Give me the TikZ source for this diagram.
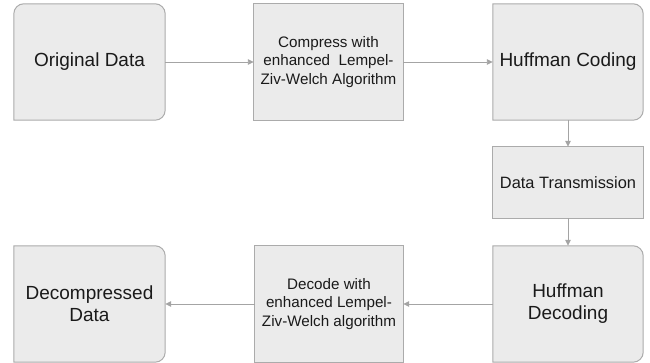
\documentclass[tikz,border=0pt]{standalone}
\usepackage{fontspec}
\setmainfont{Liberation Sans}
\usetikzlibrary{arrows.meta,backgrounds}
\definecolor{boxfill}{HTML}{EBEBEB}
\definecolor{boxline}{HTML}{ABABAB}
\definecolor{arrowgray}{HTML}{A4A4A4}
\definecolor{txt}{HTML}{1A1A1A}
\tikzset{
  blk/.style={rectangle, inner sep=0pt, text=txt, align=center},
  bigtext/.style={font=\fontsize{19}{22}\selectfont},
  smalltext/.style={font=\fontsize{15.2}{18.6}\selectfont},
  outline/.style={fill=boxfill, draw=boxline, line width=1pt},
  flow/.style={draw=arrowgray, line width=0.9pt,
    -{Triangle[length=6pt,width=5.5pt]}},
}
\begin{document}
\begin{tikzpicture}[x=1pt,y=1pt]
\useasboundingbox (0,0) rectangle (650,363);

% process blocks
\node[blk,bigtext,minimum width=151pt,minimum height=116pt] (orig) at (89.5,301) {Original Data};
\node[blk,smalltext,minimum width=149pt,minimum height=116pt] (comp) at (328.5,301)
  {Compress with\\enhanced\ \ Lempel-\\Ziv-Welch Algorithm};
\node[blk,bigtext,minimum width=150pt,minimum height=116pt] (hcod) at (568,301) {Huffman Coding};
\node[blk,font=\fontsize{16.4}{19}\selectfont,minimum width=150pt,minimum height=71pt] (trans) at (568,180.5) {Data Transmission};
\node[blk,bigtext,minimum width=150pt,minimum height=116pt] (hdec) at (568,59) {Huffman\\Decoding};
\node[blk,smalltext,minimum width=148pt,minimum height=116pt] (dec) at (329,59)
  {Decode with\\enhanced Lempel-\\Ziv-Welch algorithm};
\node[blk,bigtext,minimum width=151pt,minimum height=116pt] (decomp) at (89.5,59) {Decompressed\\Data};

% block outlines behind the labels
\begin{scope}[on background layer]
  % rounded on three corners
  \path[outline] (orig.south west) -- ([yshift=-10pt]orig.north west)
    arc[start angle=180,end angle=90,radius=10pt] -- ([xshift=-10pt]orig.north east)
    arc[start angle=90,end angle=0,radius=10pt] -- ([yshift=10pt]orig.south east)
    arc[start angle=0,end angle=-90,radius=10pt] -- cycle;
  % square blocks
  \path[outline] (comp.south west) rectangle (comp.north east);
  \path[outline] (trans.south west) rectangle (trans.north east);
  \path[outline] (dec.south west) rectangle (dec.north east);
  % rounded on the right-hand side
  \foreach \b in {hcod,hdec,decomp}{
    \path[outline] (\b.south west) -- (\b.north west) -- ([xshift=-10pt]\b.north east)
      arc[start angle=90,end angle=0,radius=10pt] -- ([yshift=10pt]\b.south east)
      arc[start angle=0,end angle=-90,radius=10pt] -- cycle;
  }
\end{scope}

% connectors
\draw[flow] (orig) -- (comp);
\draw[flow] (comp) -- (hcod);
\draw[flow] (hcod) -- (trans);
\draw[flow] (trans) -- (hdec);
\draw[flow] (hdec) -- (dec);
\draw[flow] (dec) -- (decomp);
\end{tikzpicture}
\end{document}
